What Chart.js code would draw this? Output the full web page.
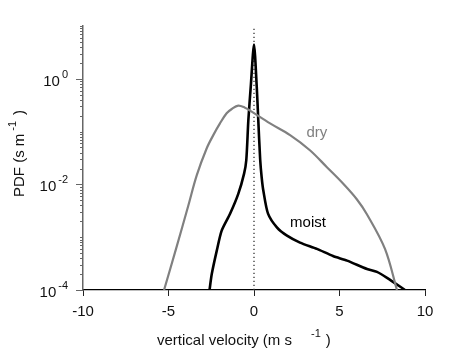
<!DOCTYPE html>
<html>
<head>
<meta charset="utf-8">
<script src="https://cdn.jsdelivr.net/npm/chart.js@4/dist/chart.umd.min.js"></script>
<style>
  body { margin: 0; background: #fff; }
  #wrap { width: 469px; height: 351px; }
</style>
</head>
<body>
<div id="wrap"><canvas id="myChart" width="469" height="351"></canvas></div>
<script>
// values
let dryX = [-5.26, -4.56, -3.84, -3.35, -2.77, -2.38, -1.99, -1.6, -1.3, -0.92, -0.53, -0.23, 0.94, 2.11, 3.27, 4.25, 5.22, 6.0, 6.61, 7.66, 8.36];
let dryY = [1e-4, 6.0e-4, 3.98e-3, 0.0148, 0.0479, 0.0858, 0.143, 0.222, 0.268, 0.31, 0.284, 0.25, 0.143, 0.0858, 0.0444, 0.0214, 0.0103, 5.3e-3, 2.7e-3, 6.0e-4, 1e-4];

let moistX = [-2.6, -2.47, -2.18, -1.89, -1.4, -0.92, -0.58, -0.45, -0.33, -0.19, 0.0, 0.16, 0.25, 0.36, 0.45, 0.55, 0.82, 1.35, 1.93, 2.69, 3.68, 4.62, 5.44, 6.61, 7.19, 7.78, 8.83];
let moistY = [1e-4, 2.0e-4, 5.5e-4, 1.33e-3, 2.77e-3, 6.6e-3, 0.016, 0.029, 0.166, 0.71, 4.45, 0.71, 0.166, 0.03, 0.0135, 7.5e-3, 2.8e-3, 1.52e-3, 1.07e-3, 7.9e-4, 6.0e-4, 4.4e-4, 3.6e-4, 2.5e-4, 2.2e-4, 1.7e-4, 1e-4];

let zeroX = [0, 0];
let zeroY = [1e-4, 10];

let xTicks = [-10, -5, 0, 5, 10];
let yLabelExps = [-4, -2, 0];
let yMin = 1e-4, yMax = 10;

function pairs(xs, ys){
    let out = [];
    for(let i = 0; i < xs.length; i++){
        out.push({x: xs[i], y: ys[i]});
    }
    return out;
}

const FONT = '"Liberation Sans", Arial, Helvetica, sans-serif';

// y ticks, labels with superscripts, axis titles and curve labels
const decorPlugin = {
    id: 'decor',
    afterDraw(chart){
        const ctx = chart.ctx;
        const y = chart.scales.y;
        const x = chart.scales.x;
        const left = chart.chartArea.left;
        ctx.save();
        ctx.strokeStyle = '#666';
        ctx.lineWidth = 1;
        for(let e = -4; e <= 1; e++){
            for(let m = 1; m <= 9; m++){
                let v = m * Math.pow(10, e);
                if(v > yMax * 1.0001) break;
                let py = Math.round(y.getPixelForValue(v)) + 0.5;
                let len = (m === 1 && yLabelExps.indexOf(e) !== -1) ? 7 : 3;
                ctx.beginPath();
                ctx.moveTo(left - len, py);
                ctx.lineTo(left, py);
                ctx.stroke();
            }
        }
        // y tick labels 10^n
        ctx.fillStyle = '#111';
        ctx.textBaseline = 'alphabetic';
        ctx.textAlign = 'left';
        yLabelExps.forEach(function(e){
            let py = y.getPixelForValue(Math.pow(10, e));
            ctx.font = '11px ' + FONT;
            let expTxt = e === 0 ? '0' : String(e);
            let ew = ctx.measureText(expTxt).width;
            let right = 68;
            ctx.fillText(expTxt, right - ew, py - 1);
            ctx.font = '15px ' + FONT;
            let bw = ctx.measureText('10').width;
            ctx.fillText('10', right - ew - bw - 2, py + 7);
        });
        // x title
        ctx.font = '15px ' + FONT;
        let t1 = 'vertical velocity (m s';
        let w1 = ctx.measureText(t1).width;
        let xs = 157;
        ctx.fillText(t1, xs, 345);
        ctx.font = '11px ' + FONT;
        ctx.fillText('-1', xs + w1 + 19, 337);
        let we = ctx.measureText('-1').width;
        ctx.font = '15px ' + FONT;
        ctx.fillText(')', xs + w1 + 19 + we + 5, 345);
        // y title (rotated)
        ctx.save();
        ctx.translate(24, 197);
        ctx.rotate(-Math.PI / 2);
        let t2 = 'PDF (s m';
        let w2 = ctx.measureText(t2).width;
        ctx.fillText(t2, 0, 0);
        ctx.font = '11px ' + FONT;
        ctx.fillText('-1', w2 + 3, -8);
        let we2 = ctx.measureText('-1').width;
        ctx.font = '15px ' + FONT;
        ctx.fillText(')', w2 + 3 + we2 + 6, 0);
        ctx.restore();
        // curve labels
        ctx.textAlign = 'center';
        ctx.textBaseline = 'middle';
        ctx.font = '15px ' + FONT;
        ctx.fillStyle = '#808080';
        ctx.fillText('dry', x.getPixelForValue(3.68), y.getPixelForValue(0.0936));
        ctx.fillStyle = '#000';
        ctx.fillText('moist', x.getPixelForValue(3.16), y.getPixelForValue(0.00189));
        ctx.restore();
    }
};

var ctx = document.getElementById('myChart').getContext('2d');
let config = {
    type: 'line',
    data: {
        datasets: [{
            label: 'dry',
            data: pairs(dryX, dryY),
            borderColor: '#808080',
            borderWidth: 2.2,
            pointRadius: 0,
            tension: 0.35,
            fill: false
        }, {
            label: 'moist',
            data: pairs(moistX, moistY),
            borderColor: '#000',
            borderWidth: 2.6,
            pointRadius: 0,
            tension: 0.25,
            fill: false
        }, {
            label: 'zero',
            data: pairs(zeroX, zeroY),
            borderColor: '#333',
            borderWidth: 1.3,
            borderDash: [1.3, 2.7],
            pointRadius: 0,
            fill: false
        }]
    },
    options: {
        responsive: false,
        animation: false,
        layout: {padding: {top: 26, right: 44, left: 0, bottom: 0}},
        plugins: {legend: {display: false}, tooltip: {enabled: false}},
        scales: {
            x: {
                type: 'linear',
                min: -10,
                max: 10,
                afterBuildTicks: function(scale){
                    scale.ticks = xTicks.map(function(v){ return {value: v}; });
                },
                afterFit: function(scale){ scale.height = 61; },
                ticks: {
                    color: '#111',
                    font: {family: FONT, size: 15},
                    padding: 7,
                    maxRotation: 0
                },
                grid: {
                    drawOnChartArea: false,
                    drawTicks: true,
                    tickLength: 6,
                    color: '#222'
                },
                border: {display: true, color: '#000', width: 1.2}
            },
            y: {
                type: 'logarithmic',
                min: yMin,
                max: yMax,
                afterFit: function(scale){ scale.width = 83; },
                ticks: {display: false},
                grid: {display: false, drawTicks: false},
                border: {display: true, color: '#666', width: 1.5}
            }
        }
    },
    plugins: [decorPlugin]
};
let myChart = new Chart(ctx, config);
</script>
</body>
</html>
